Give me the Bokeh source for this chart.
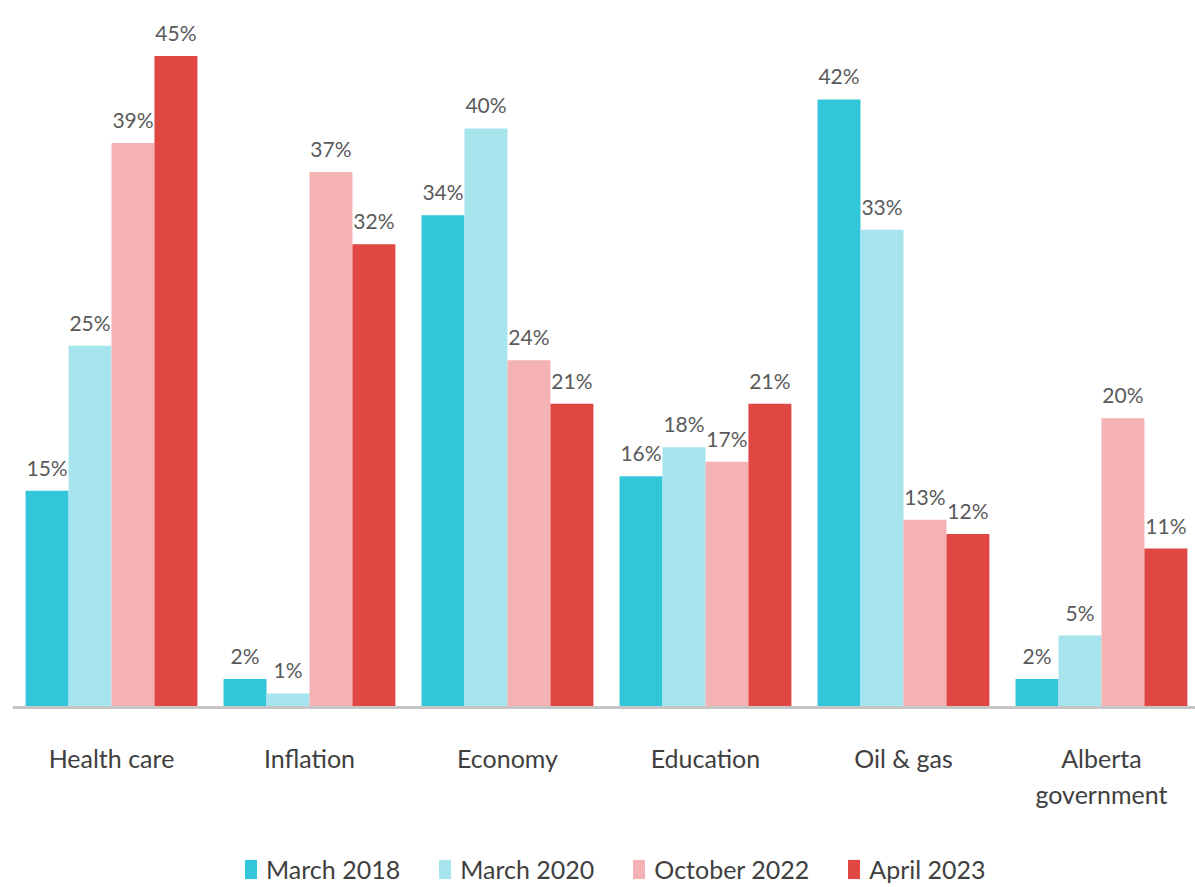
from bokeh.plotting import figure
from bokeh.models import Range1d, FixedTicker, Legend, LegendItem, ColumnDataSource
from bokeh.core.properties import value
from bokeh.embed import file_html
from bokeh.resources import INLINE

categories = ["Health care", "Inflation", "Economy", "Education", "Oil & gas", "Alberta government"]
tick_labels = ["Health care", "Inflation", "Economy", "Education", "Oil & gas", "Alberta\ngovernment"]
series_names = ["March 2018", "March 2020", "October 2022", "April 2023"]
march_2018 = [15, 2, 34, 16, 42, 2]
march_2020 = [25, 1, 40, 18, 33, 5]
october_2022 = [39, 37, 24, 17, 13, 20]
april_2023 = [45, 32, 21, 21, 12, 11]
colors = ["#33c6da", "#a6e4ee", "#f5b2b4", "#e04642"]

series = [march_2018, march_2020, october_2022, april_2023]

FONT = "Lato"
bar_w = 0.217
offsets = [-1.5 * bar_w, -0.5 * bar_w, 0.5 * bar_w, 1.5 * bar_w]

p = figure(width=1195, height=887, frame_width=1183, frame_height=887,
           x_range=Range1d(-0.5, 5.475), y_range=Range1d(-12.39, 48.83),
           output_backend="svg", toolbar_location=None,
           min_border_left=12, min_border_right=0, min_border_top=0, min_border_bottom=0)
p.outline_line_color = None
p.grid.visible = False
p.yaxis.visible = False
p.background_fill_color = "white"
p.border_fill_color = "white"

items = []
for vals, name, col, off in zip(series, series_names, colors, offsets):
    xs = [i + off for i in range(len(categories))]
    src = ColumnDataSource(dict(x=xs, top=vals, label=[f"{v}%" for v in vals]))
    r = p.vbar(x="x", top="top", bottom=0, width=bar_w, source=src,
               fill_color=col, line_color=None)
    p.text(x="x", y="top", text="label", source=src, text_align="center",
           text_baseline="bottom", y_offset=-11, text_font=value(FONT),
           text_font_size="21px", text_color="#5a5a5a")
    items.append(LegendItem(label=name, renderers=[r]))

ax = p.xaxis[0]
ax.fixed_location = 0
ax.ticker = FixedTicker(ticks=list(range(len(categories))))
ax.major_label_overrides = {i: lab for i, lab in enumerate(tick_labels)}
ax.axis_line_color = "#c6c6c6"
ax.axis_line_width = 3
ax.major_tick_line_color = None
ax.minor_tick_line_color = None
ax.major_tick_out = 0
ax.major_tick_in = 0
ax.major_label_standoff = 35
ax.major_label_text_font = FONT
ax.major_label_text_font_size = "25px"
ax.major_label_text_color = "#3f3f3f"

legend = Legend(items=items, orientation="horizontal", location=(231, 3),
                label_text_font=FONT, label_text_font_size="25px",
                label_text_color="#3f3f3f", glyph_width=15, glyph_height=24,
                label_standoff=8, spacing=37, border_line_color=None,
                background_fill_alpha=0, margin=0, padding=2)
p.add_layout(legend, "center")

open("out.html", "w").write(file_html(p, INLINE))
